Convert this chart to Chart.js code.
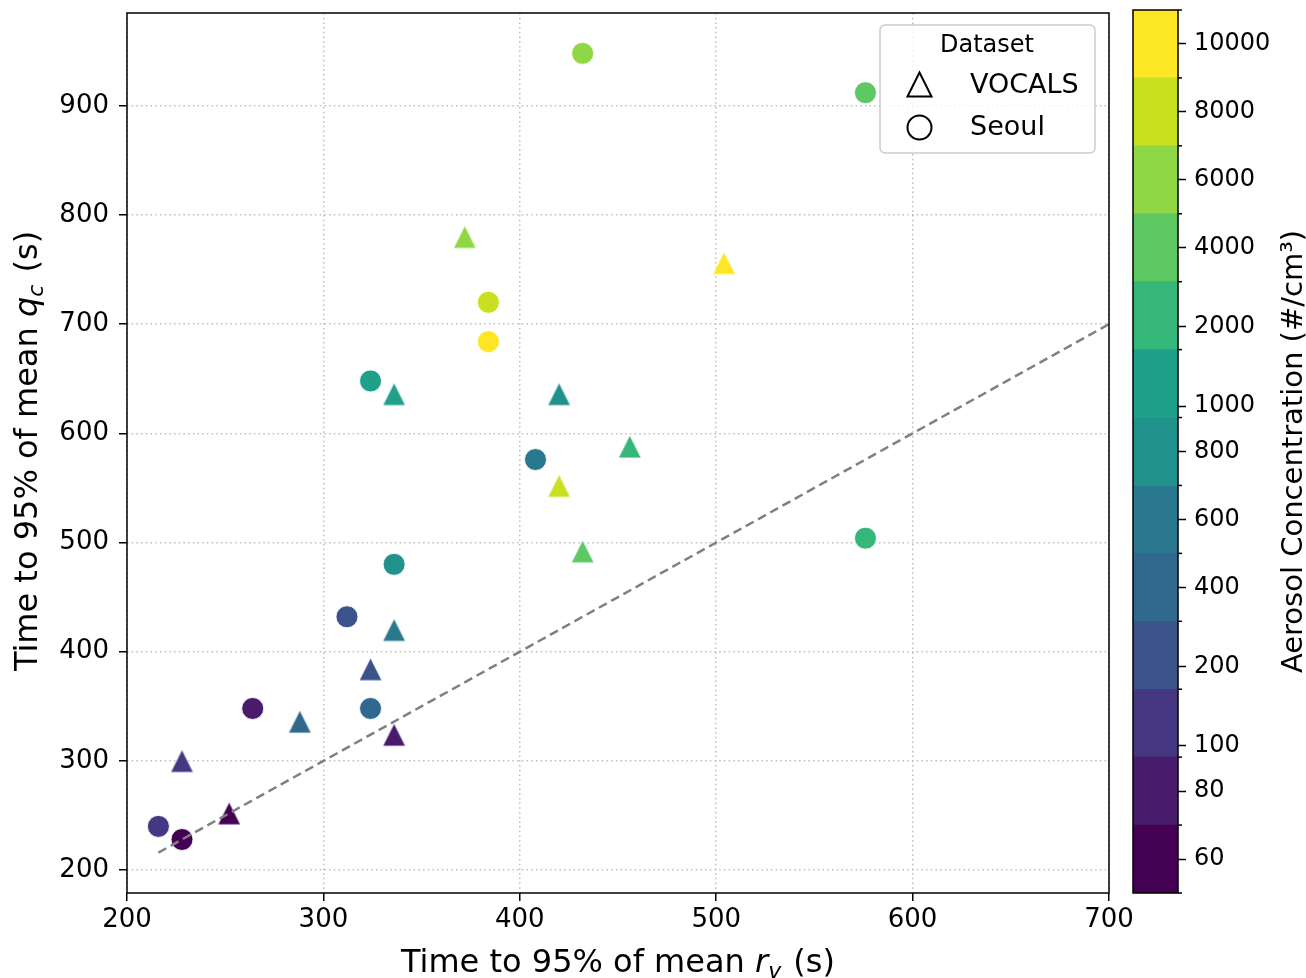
<!DOCTYPE html>
<html lang="en">

<head>
  <meta charset="UTF-8" />
  <title>Time to 95% of mean</title>
  <style>
    body { margin: 0; background: #fff; }
    .wrap { position: relative; width: 1306px; height: 978px; }
    #mainBox { position: absolute; left: 0; top: 0; }
    #cbBox { position: absolute; left: 1120px; top: 0; }
  </style>
  <script src="https://cdn.jsdelivr.net/npm/chart.js"></script>
</head>

<body>
  <div class="wrap">
    <div id="mainBox"><canvas id="scatterChart" width="1140" height="978"></canvas></div>
    <div id="cbBox"><canvas id="colorBar" width="186" height="978"></canvas></div>
  </div>

  <script>
    // VOCALS runs (triangles)
    const vocalsX = [372, 504, 336, 420, 456, 420, 432, 336, 324, 288, 336, 228, 252];
    const vocalsY = [780, 756, 636, 636, 588, 552, 492, 420, 384, 336, 324, 300, 252];
    const vocalsConc = [6000, 10000, 1000, 800, 2000, 8000, 4000, 600, 200, 400, 80, 100, 60];

    // Seoul runs (circles)
    const seoulX = [432, 576, 384, 384, 324, 408, 576, 336, 312, 264, 324, 216, 228];
    const seoulY = [948, 912, 720, 684, 648, 576, 504, 480, 432, 348, 348, 240, 228];
    const seoulConc = [6000, 4000, 8000, 10000, 1000, 600, 2000, 800, 200, 80, 400, 100, 60];

    // 1:1 reference line
    const refLineX = [216, 700];

    const xTicks = [200, 300, 400, 500, 600, 700];
    const yTicks = [200, 300, 400, 500, 600, 700, 800, 900];

    // colorbar (discrete bands)
    const cbBounds = [50, 70, 90, 150, 300, 500, 700, 900, 1500, 3000, 5000, 7000, 9000, 11000];
    const cbTicks = [60, 80, 100, 200, 400, 600, 800, 1000, 2000, 4000, 6000, 8000, 10000];
    const cbColors = ['#440154', '#481b6d', '#453781', '#3b528b', '#31688e', '#2a788e', '#21918c',
      '#1fa088', '#35b779', '#5ec962', '#8fd744', '#c8e020', '#fde725'];

    Chart.defaults.font.family = "'DejaVu Sans', sans-serif";
    Chart.defaults.color = '#000';

    function bandOf(v) {
      for (let i = 0; i < cbColors.length; i++) {
        if (v < cbBounds[i + 1]) return i;
      }
      return cbColors.length - 1;
    }
    function colorFor(v) { return cbColors[bandOf(v)]; }
    // position of a value on the colorbar (band units)
    function bandPos(v) {
      const i = bandOf(v);
      return i + (v - cbBounds[i]) / (cbBounds[i + 1] - cbBounds[i]);
    }

    // matplotlib-like "^" marker: as wide as it is tall
    function triangleImg(fill) {
      const s = 25;
      const c = document.createElement('canvas');
      c.width = s; c.height = s;
      const g = c.getContext('2d');
      g.beginPath();
      g.moveTo(s / 2, 1);
      g.lineTo(s - 1, s - 1);
      g.lineTo(1, s - 1);
      g.closePath();
      g.fillStyle = fill;
      g.fill();
      g.lineWidth = 1;
      g.strokeStyle = 'rgba(255,255,255,0.9)';
      g.stroke();
      return c;
    }

    // draws text with an italic variable and subscript, centred at (0,0)
    function mathTitle(ctx, before, v, sub, after, size) {
      const norm = size + "px 'DejaVu Sans', sans-serif";
      const ital = 'italic ' + size + "px 'DejaVu Sans', sans-serif";
      const subf = 'italic ' + Math.round(size * 0.7) + "px 'DejaVu Sans', sans-serif";
      ctx.font = norm; const w1 = ctx.measureText(before).width; const w4 = ctx.measureText(after).width;
      ctx.font = ital; const w2 = ctx.measureText(v).width;
      ctx.font = subf; const w3 = ctx.measureText(sub).width;
      let x = -(w1 + w2 + w3 + 2 + w4) / 2;
      ctx.textAlign = 'left';
      ctx.textBaseline = 'alphabetic';
      ctx.font = norm; ctx.fillText(before, x, 0); x += w1;
      ctx.font = ital; ctx.fillText(v, x, 0); x += w2;
      ctx.font = subf; ctx.fillText(sub, x, size * 0.2); x += w3 + 2;
      ctx.font = norm; ctx.fillText(after, x, 0);
    }

    const framePlugin = {
      id: 'frame',
      afterDraw(chart) {
        const { ctx, chartArea: a } = chart;
        ctx.save();
        ctx.strokeStyle = '#000';
        ctx.lineWidth = 1.5;
        ctx.strokeRect(a.left, a.top, a.right - a.left, a.bottom - a.top);
        ctx.restore();
      }
    };

    const labelsPlugin = {
      id: 'labels',
      afterDraw(chart) {
        const { ctx, chartArea: a } = chart;
        ctx.save();
        ctx.fillStyle = '#000';
        ctx.translate((a.left + a.right) / 2, 972);
        mathTitle(ctx, 'Time to 95% of mean ', 'r', 'v', ' (s)', 32);
        ctx.restore();

        ctx.save();
        ctx.fillStyle = '#000';
        ctx.translate(37, 451);
        ctx.rotate(-Math.PI / 2);
        mathTitle(ctx, 'Time to 95% of mean ', 'q', 'c', ' (s)', 32);
        ctx.restore();

        // legend box
        ctx.save();
        const bx = 880, by = 25, bw = 215, bh = 128;
        ctx.beginPath();
        ctx.roundRect(bx, by, bw, bh, 5);
        ctx.fillStyle = 'rgba(255,255,255,0.8)';
        ctx.fill();
        ctx.strokeStyle = '#cccccc';
        ctx.lineWidth = 1.5;
        ctx.stroke();
        ctx.fillStyle = '#000';
        ctx.textBaseline = 'middle';
        ctx.textAlign = 'center';
        ctx.font = "24px 'DejaVu Sans', sans-serif";
        ctx.fillText('Dataset', 987, 46);
        ctx.textAlign = 'left';
        ctx.font = "27px 'DejaVu Sans', sans-serif";
        ctx.fillText('VOCALS', 970, 86);
        ctx.fillText('Seoul', 970, 128);
        ctx.strokeStyle = '#000';
        ctx.lineWidth = 2;
        ctx.beginPath();
        ctx.moveTo(919.5, 72.5);
        ctx.lineTo(931.5, 96.5);
        ctx.lineTo(907.5, 96.5);
        ctx.closePath();
        ctx.stroke();
        ctx.beginPath();
        ctx.arc(919.5, 127.5, 12, 0, Math.PI * 2);
        ctx.stroke();
        ctx.restore();
      }
    };

    const gridOpts = {
      color: '#bdbdbd',
      lineWidth: 1.5,
      tickColor: '#000',
      tickLength: 8,
      tickWidth: 1.5
    };

    new Chart(document.getElementById('scatterChart'), {
      type: 'scatter',
      data: {
        datasets: [
          {
            type: 'line',
            label: '1:1',
            data: refLineX.map(v => ({ x: v, y: v })),
            borderColor: '#808080',
            borderDash: [9, 5],
            borderWidth: 2.5,
            pointRadius: 0,
            fill: false
          },
          {
            label: 'VOCALS',
            data: vocalsX.map((x, i) => ({ x: x, y: vocalsY[i] })),
            pointStyle: vocalsConc.map(v => triangleImg(colorFor(v))),
            pointRadius: 12
          },
          {
            label: 'Seoul',
            data: seoulX.map((x, i) => ({ x: x, y: seoulY[i] })),
            pointStyle: 'circle',
            pointRadius: 11,
            pointBackgroundColor: seoulConc.map(colorFor),
            pointBorderColor: 'rgba(255,255,255,0.9)',
            pointBorderWidth: 1
          }
        ]
      },
      options: {
        responsive: false,
        animation: false,
        layout: { padding: { left: 0, top: 10, right: 31, bottom: 0 } },
        plugins: {
          legend: { display: false },
          tooltip: { enabled: false }
        },
        scales: {
          x: {
            type: 'linear',
            min: 200,
            max: 700,
            afterBuildTicks: s => { s.ticks = xTicks.map(v => ({ value: v })); },
            afterFit: s => { s.height = 85; s.paddingLeft = 0; s.paddingRight = 0; },
            ticks: { font: { size: 26 }, padding: 4, maxRotation: 0, autoSkip: false },
            grid: gridOpts,
            border: { display: false, dash: [1.5, 3.2] }
          },
          y: {
            type: 'linear',
            min: 179,
            max: 985,
            afterBuildTicks: s => { s.ticks = yTicks.map(v => ({ value: v })); },
            afterFit: s => { s.width = 127; s.paddingTop = 0; s.paddingBottom = 0; },
            ticks: { font: { size: 26 }, padding: 10, autoSkip: false },
            grid: gridOpts,
            border: { display: false, dash: [1.5, 3.2] }
          }
        }
      },
      plugins: [framePlugin, labelsPlugin]
    });

    // colorbar
    const cbPlugin = {
      id: 'cbExtras',
      afterDraw(chart) {
        const { ctx, chartArea: a } = chart;
        const ys = chart.scales.y;
        ctx.save();
        ctx.strokeStyle = '#000';
        ctx.lineWidth = 1.5;
        // short ticks on the band edges
        for (let i = 0; i <= cbColors.length; i++) {
          const py = ys.getPixelForValue(i);
          ctx.beginPath();
          ctx.moveTo(a.right, py);
          ctx.lineTo(a.right + 4, py);
          ctx.stroke();
        }
        ctx.strokeRect(a.left, a.top, a.right - a.left, a.bottom - a.top);
        ctx.fillStyle = '#000';
        ctx.font = "29px 'DejaVu Sans', sans-serif";
        ctx.textAlign = 'center';
        ctx.textBaseline = 'alphabetic';
        ctx.translate(182, (a.top + a.bottom) / 2);
        ctx.rotate(-Math.PI / 2);
        ctx.fillText('Aerosol Concentration (#/cm³)', 0, 0);
        ctx.restore();
      }
    };

    new Chart(document.getElementById('colorBar'), {
      type: 'bar',
      data: {
        labels: [''],
        datasets: cbColors.map((c, i) => ({
          data: [[i, i + 1]],
          backgroundColor: c,
          borderWidth: 0,
          barPercentage: 1,
          categoryPercentage: 1
        }))
      },
      options: {
        responsive: false,
        animation: false,
        layout: { padding: { left: 13, top: 10, right: 0, bottom: 85 } },
        plugins: {
          legend: { display: false },
          tooltip: { enabled: false }
        },
        scales: {
          x: { display: false, stacked: true },
          y: {
            position: 'right',
            min: 0,
            max: cbColors.length,
            afterBuildTicks: s => { s.ticks = cbTicks.map(v => ({ value: bandPos(v) })); },
            afterFit: s => { s.width = 128; s.paddingTop = 0; s.paddingBottom = 0; },
            ticks: {
              font: { size: 24 },
              padding: 8,
              autoSkip: false,
              callback: (val, idx) => String(cbTicks[idx])
            },
            grid: { drawOnChartArea: false, tickColor: '#000', tickLength: 8, tickWidth: 1.5 },
            border: { display: false }
          }
        }
      },
      plugins: [cbPlugin]
    });
  </script>
</body>

</html>
